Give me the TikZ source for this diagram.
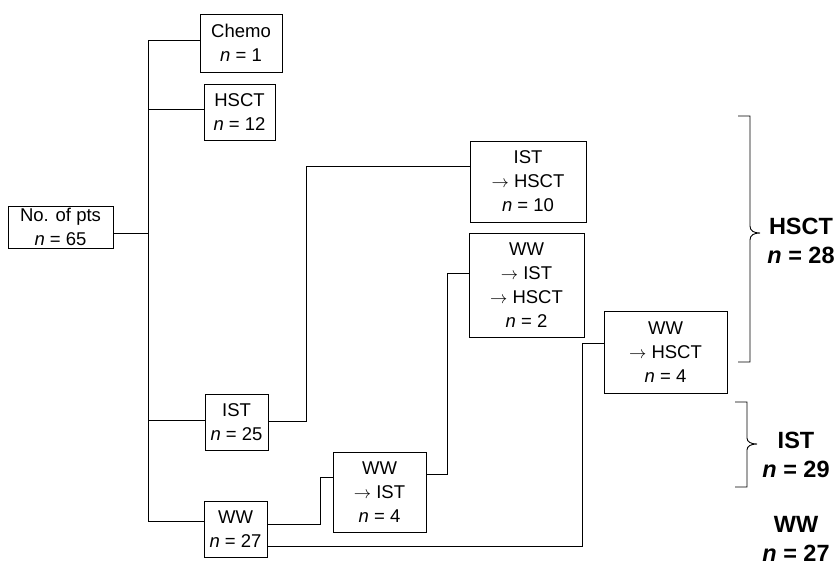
\documentclass[tikz,border=0pt]{standalone}
\usepackage{fontspec}
\setmainfont{Liberation Sans}
\newcommand{\arr}{$\rightarrow$}
\begin{document}
\begin{tikzpicture}[x=1pt,y=-1pt,
  box/.style={draw,line width=0.9pt,inner sep=0pt,align=center,font=\fontsize{18.5}{24}\selectfont},
  conn/.style={line width=0.9pt},
  lab/.style={align=center,font=\fontsize{23.5}{29}\selectfont\bfseries}]
\useasboundingbox (0,0) rectangle (839,565);
\node[box,minimum width=105pt,minimum height=42pt] (root) at (60.5,227) {No. of pts\\\textit{n} = 65};
\node[box,minimum width=82pt,minimum height=58pt] (chemo) at (241,43) {Chemo\\\textit{n} = 1};
\node[box,minimum width=71pt,minimum height=56pt] (hsct) at (239.5,112) {HSCT\\\textit{n} = 12};
\node[box,minimum width=63pt,minimum height=56pt] (ist) at (236.5,422) {IST\\\textit{n} = 25};
\node[box,minimum width=63pt,minimum height=56pt] (ww) at (235.5,529) {WW\\\textit{n} = 27};
\node[box,minimum width=116pt,minimum height=81pt] (isthsct) at (528,181.5) {IST\\\arr{} HSCT\\\textit{n} = 10};
\node[box,minimum width=115pt,minimum height=104pt] (wwisthsct) at (526.5,285) {WW\\\arr{} IST\\\arr{} HSCT\\\textit{n} = 2};
\node[box,minimum width=93pt,minimum height=80pt] (wwist) at (379.5,492) {WW\\\arr{} IST\\\textit{n} = 4};
\node[box,minimum width=123pt,minimum height=82pt] (wwhsct) at (665.5,352) {WW\\\arr{} HSCT\\\textit{n} = 4};
\coordinate (tb) at (148,521);
\coordinate (x1) at (306,0);
\coordinate (x2) at (320,0);
\coordinate (x3) at (447,0);
\coordinate (x4) at (582,0);
\draw[conn] ([yshift=-6pt]root.east) -- ([yshift=-6pt]root.east -| tb);
\draw[conn] ([yshift=3pt]chemo.west) -| (tb) -- ([yshift=8pt]ww.west);
\draw[conn] ([yshift=3pt]hsct.west) -- ([yshift=3pt]hsct.west -| tb);
\draw[conn] ([yshift=2pt]ist.west) -- ([yshift=2pt]ist.west -| tb);
\draw[conn] ([yshift=1pt]ist.east) -- ([yshift=1pt]ist.east -| x1) |- ([yshift=15pt]isthsct.west);
\draw[conn] ([yshift=5pt]ww.east) -- ([yshift=5pt]ww.east -| x2) |- ([yshift=15pt]wwist.west);
\draw[conn] ([yshift=18pt]wwist.east) -- ([yshift=18pt]wwist.east -| x3) |- ([yshift=12pt]wwisthsct.west);
\draw[conn] ([yshift=-17pt]ww.east) -- ([yshift=-17pt]ww.east -| x4) |- ([yshift=9pt]wwhsct.west);
% brackets
\draw[conn] (738,116) -- (750,116) -- (750,226) .. controls (750,231) and (754,233) .. (760,233) .. controls (754,233) and (750,235) .. (750,240) -- (750,362) -- (738,362);
\draw[conn] (735,402) -- (747,402) -- (747,438) .. controls (747,442) and (751,444) .. (757,444) .. controls (751,444) and (747,446) .. (747,450) -- (747,487) -- (735,487);
\node[lab] (lh) at (801,241) {HSCT\\\textit{n} = 28};
\node[lab] (li) at (796,455) {IST\\\textit{n} = 29};
\node[lab] (lw) at (796,539) {WW\\\textit{n} = 27};
\end{tikzpicture}
\end{document}
